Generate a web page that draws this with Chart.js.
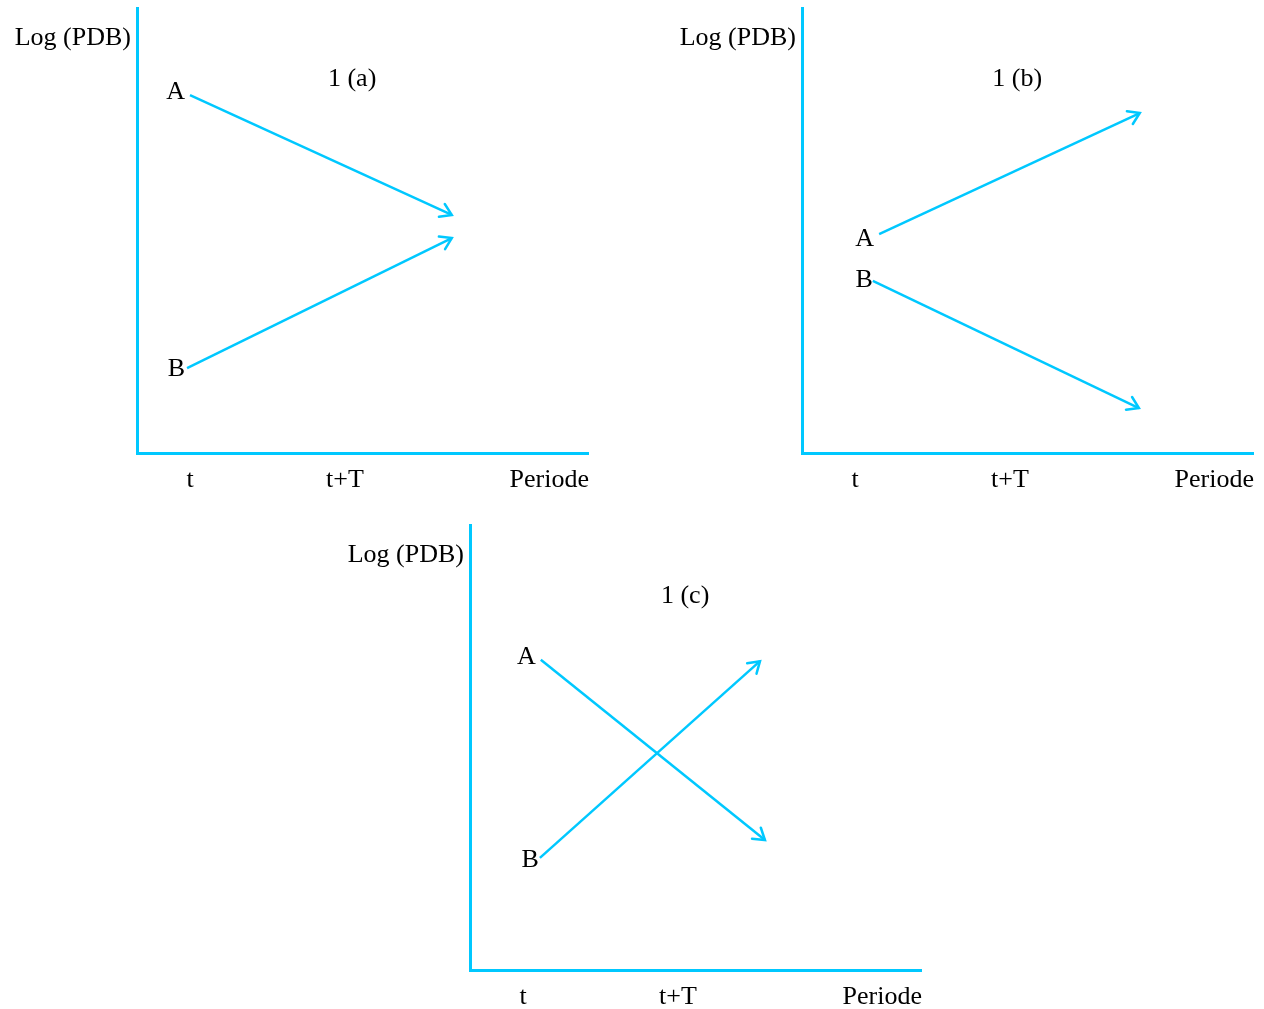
<!DOCTYPE html>
<html>
<head>
<meta charset="utf-8">
<script src="https://cdn.jsdelivr.net/npm/chart.js@4.4.1/dist/chart.umd.min.js"></script>
<style>
  body { margin: 0; background: #fff; }
  #wrap { position: relative; width: 1264px; height: 1009px; }
  .panel { position: absolute; width: 620px; height: 500px; }
</style>
</head>
<body>
<div id="wrap">
  <div class="panel" style="left:0;top:0"><canvas id="chartA"></canvas></div>
  <div class="panel" style="left:665px;top:0"><canvas id="chartB"></canvas></div>
  <div class="panel" style="left:333px;top:517px"><canvas id="chartC"></canvas></div>
</div>
<script>
// ejes (unidades arbitrarias 0..100)
const xTicks = [11.75, 46.1];
const xTickLabels = ["t", "t+T"];
const xAxisName = "Periode";
const yAxisName = "Log (PDB)";
const titles = ["1 (a)", "1 (b)", "1 (c)"];
const titlePos = { x: 47.7, y: 84 };

// trayectorias A y B por panel: [inicio, fin]
const lineA_a = [{ x: 11.75, y: 80.4 }, { x: 69.8, y: 53.5 }];
const lineB_a = [{ x: 11.1, y: 19.1 }, { x: 69.8, y: 48.3 }];
const lineA_b = [{ x: 17.1, y: 49.2 }, { x: 74.9, y: 76.4 }];
const lineB_b = [{ x: 15.7, y: 38.7 }, { x: 74.7, y: 10.1 }];
const lineA_c = [{ x: 15.7, y: 69.7 }, { x: 65.4, y: 29.2 }];
const lineB_c = [{ x: 15.5, y: 25.2 }, { x: 64.3, y: 69.4 }];
const lineLabels = ["A", "B"];

const azul = "#00c8ff";
const fuente = "26px 'Liberation Serif', 'Times New Roman', serif";

// dibuja flechas, etiquetas y textos de los ejes
const anotaciones = {
  id: "anotaciones",
  afterDatasetsDraw(chart, args, opts) {
    const ctx = chart.ctx;
    const area = chart.chartArea;
    const xs = chart.scales.x;
    const ys = chart.scales.y;
    ctx.save();
    // puntas de flecha
    chart.data.datasets.forEach((ds, i) => {
      const pts = chart.getDatasetMeta(i).data;
      const p0 = pts[pts.length - 2];
      const p1 = pts[pts.length - 1];
      const ang = Math.atan2(p1.y - p0.y, p1.x - p0.x);
      const len = 13;
      const abre = Math.PI / 5.5;
      ctx.strokeStyle = azul;
      ctx.lineWidth = 2.5;
      ctx.lineCap = "round";
      ctx.beginPath();
      ctx.moveTo(p1.x - len * Math.cos(ang - abre), p1.y - len * Math.sin(ang - abre));
      ctx.lineTo(p1.x, p1.y);
      ctx.lineTo(p1.x - len * Math.cos(ang + abre), p1.y - len * Math.sin(ang + abre));
      ctx.stroke();
      // etiqueta A / B
      const off = opts.offsets[i];
      ctx.fillStyle = "#000";
      ctx.font = fuente;
      ctx.textAlign = "right";
      ctx.textBaseline = "middle";
      ctx.fillText(lineLabels[i], pts[0].x - off[0], pts[0].y + off[1]);
    });
    ctx.fillStyle = "#000";
    ctx.font = fuente;
    // titulo del panel
    ctx.textAlign = "center";
    ctx.textBaseline = "middle";
    ctx.fillText(opts.titulo, xs.getPixelForValue(titlePos.x), ys.getPixelForValue(titlePos.y));
    // ticks del eje x
    const yTxt = area.bottom + 27;
    xTicks.forEach((v, i) => {
      ctx.fillText(xTickLabels[i], xs.getPixelForValue(v), yTxt);
    });
    ctx.textAlign = "right";
    ctx.fillText(xAxisName, area.right + 1, yTxt);
    // nombre del eje y
    ctx.fillText(yAxisName, area.left - 6, area.top + 30);
    ctx.restore();
  }
};

function crearPanel(id, lineaA, lineaB, titulo, offsets) {
  const ctx = document.getElementById(id).getContext("2d");
  const ejeComun = {
    display: true,
    min: 0,
    max: 100,
    grid: { display: false, drawTicks: false },
    ticks: { display: false },
    border: { display: true, color: azul, width: 3 },
    afterFit: s => { if (s.isHorizontal()) s.height = 0; else s.width = 0; }
  };
  return new Chart(ctx, {
    type: "scatter",
    data: {
      datasets: [lineaA, lineaB].map(d => ({
        data: d,
        showLine: true,
        borderColor: azul,
        borderWidth: 2.5,
        pointRadius: 0,
        fill: false
      }))
    },
    options: {
      responsive: false,
      animation: false,
      layout: { padding: { left: 137, top: 8, right: 32, bottom: 47 } },
      plugins: {
        legend: { display: false },
        tooltip: { enabled: false },
        anotaciones: { titulo: titulo, offsets: offsets }
      },
      scales: {
        x: { ...ejeComun, type: "linear", position: "bottom" },
        y: { ...ejeComun, type: "linear", position: "left" }
      }
    },
    plugins: [anotaciones]
  });
}

["chartA", "chartB", "chartC"].forEach(id => {
  const c = document.getElementById(id);
  c.width = 620;
  c.height = 500;
});

crearPanel("chartA", lineA_a, lineB_a, titles[0], [[5, -3], [2, 1]]);
crearPanel("chartB", lineA_b, lineB_b, titles[1], [[5, 5], [0, -1]]);
crearPanel("chartC", lineA_c, lineB_c, titles[2], [[5, -3], [1, 2]]);
</script>
</body>
</html>
